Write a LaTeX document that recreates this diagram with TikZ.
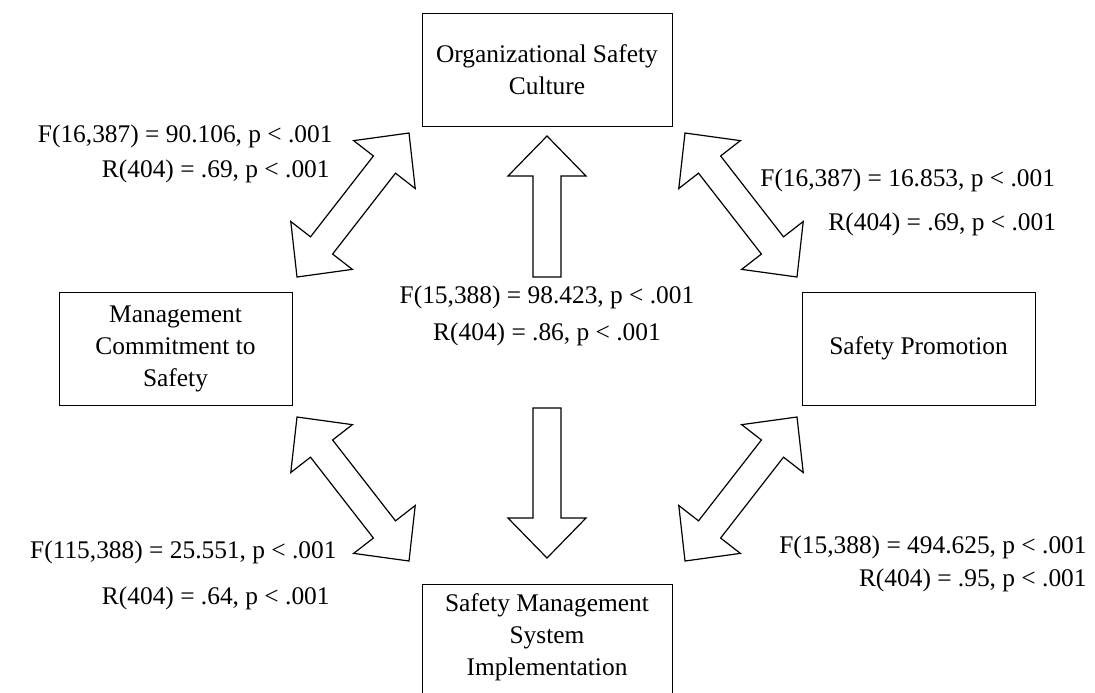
\documentclass[tikz,border=0pt]{standalone}
\usepackage{fontspec}
\setmainfont{Liberation Serif}
\usetikzlibrary{calc}

\begin{document}
\begin{tikzpicture}[x=0.5pt, y=-0.5pt,
		every node/.style={font=\fontsize{12.7}{16}\selectfont},
		box/.style={draw, line width=0.5pt, align=center, inner sep=0pt},
		stat/.style={inner sep=0pt},
		blk/.style={draw, line width=0.6pt, line join=miter}]
	\path[use as bounding box, clip] (0,0) rectangle (1095,692);

	% boxes
	\node[box, minimum width=125pt, minimum height=56.5pt] (osc) at (547,69.5) {Organizational Safety\\Culture};
	\node[box, minimum width=116.5pt, minimum height=56.5pt] (mcs) at (175.5,348.5) {Management\\Commitment to\\Safety};
	\node[box, minimum width=116.5pt, minimum height=56.5pt] (sp) at (918.5,348.5) {Safety Promotion};
	\node[box, anchor=north, minimum width=125pt, text depth=40pt, inner ysep=4.5pt] (sms) at (547,584) {Safety Management\\System\\Implementation};

	% arrow ends
	\coordinate (tl1) at (297,277); \coordinate (tl2) at (409,133);
	\coordinate (tr1) at (797,277); \coordinate (tr2) at (685,133);
	\coordinate (bl1) at (297,417); \coordinate (bl2) at (409,561);
	\coordinate (br1) at (797,417); \coordinate (br2) at (685,561);

	% double block arrows
	\foreach \a/\b in {tl1/tl2, tr1/tr2, bl1/bl2, br1/br2} {
		\coordinate (ab) at ($(\a)!20pt!(\b)$);
		\coordinate (ba) at ($(\b)!20pt!(\a)$);
		\draw[blk] (\a) -- ($(ab)!19.5pt!90:(\b)$) -- ($(ab)!7pt!90:(\b)$)
			-- ($(ba)!7pt!-90:(\a)$) -- ($(ba)!19.5pt!-90:(\a)$) -- (\b)
			-- ($(ba)!19.5pt!90:(\a)$) -- ($(ba)!7pt!90:(\a)$)
			-- ($(ab)!7pt!-90:(\b)$) -- ($(ab)!19.5pt!-90:(\b)$) -- cycle;
	}

	% single block arrows (up and down)
	\coordinate (up1) at (547,277); \coordinate (up2) at (547,136);
	\coordinate (dn1) at (547,408); \coordinate (dn2) at (547,558);
	\foreach \a/\b in {up1/up2, dn1/dn2} {
		\coordinate (hb) at ($(\b)!20pt!(\a)$);
		\draw[blk] ($(\a)!7pt!90:(\b)$) -- ($(hb)!7pt!-90:(\a)$) -- ($(hb)!19.5pt!-90:(\a)$)
			-- (\b) -- ($(hb)!19.5pt!90:(\a)$) -- ($(hb)!7pt!90:(\a)$)
			-- ($(\a)!7pt!-90:(\b)$) -- cycle;
	}

	% statistics
	\node[stat, anchor=base east] (f1) at (333,142) {F(16,387) = 90.106, p < .001};
	\node[stat, anchor=base east] (r1) at (330,177) {R(404) = .69, p < .001};
	\node[stat, anchor=base west] (f2) at (760,186) {F(16,387) = 16.853, p < .001};
	\node[stat, anchor=base west] (r2) at (828,230) {R(404) = .69, p < .001};
	\node[stat, anchor=base] (f3) at (547,303) {F(15,388) = 98.423, p < .001};
	\node[stat, anchor=base] (r3) at (547,340) {R(404) = .86, p < .001};
	\node[stat, anchor=base east] (f4) at (337,558) {F(115,388) = 25.551, p < .001};
	\node[stat, anchor=base east] (r4) at (330,604) {R(404) = .64, p < .001};
	\node[stat, anchor=base east] (f5) at (1087,553) {F(15,388) = 494.625, p < .001};
	\node[stat, anchor=base east] (r5) at (1087,586) {R(404) = .95, p < .001};
\end{tikzpicture}
\end{document}
